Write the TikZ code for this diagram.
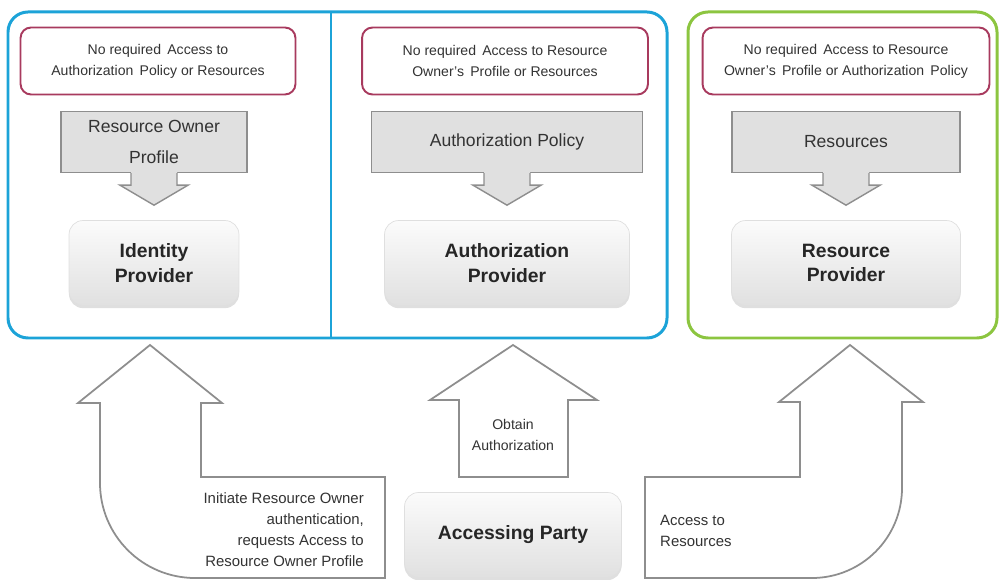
\documentclass[tikz,border=0pt]{standalone}
\usepackage{fontspec}
\setmainfont{Liberation Sans}
\usetikzlibrary{positioning,calc,shadows}
\definecolor{frameblue}{HTML}{1CA3D8}
\definecolor{framegreen}{HTML}{8CC540}
\definecolor{notered}{HTML}{A83A5E}
\definecolor{arrowgray}{HTML}{8E8E8E}
\definecolor{boxgray}{HTML}{E0E0E0}
\tikzset{
x=0.02cm, y=-0.02cm, % one unit is one pixel of the sketch
note/.style={draw=notered, line width=1.1pt, rounded corners=6pt, fill=white, minimum width=5.5cm, minimum height=1.34cm, align=center, font=\fontsize{8}{12}\selectfont, text=black!80},
datum/.style={draw=arrowgray, line width=0.8pt, fill=boxgray, minimum height=1.22cm, align=center, font=\fontsize{10}{18}\selectfont, text=black!80},
provider/.style={rounded corners=8pt, top color=gray!3, bottom color=gray!24, draw=gray!25, drop shadow={opacity=0.25, shadow xshift=0pt, shadow yshift=-1.5pt}, minimum height=1.7cm, align=center, font=\fontsize{11}{14}\selectfont\bfseries, text=black!85},
frame/.style={line width=1.7pt, rounded corners=0.4cm},
bigarrow/.style={draw=arrowgray, line width=1pt, fill=white, line join=miter},
says/.style={font=\fontsize{8.5}{12}\selectfont, text=black!80},
}
% arrow under a data box, pointing to its provider
\newcommand\dropArrow[1]{%
\fill[boxgray] ($(#1.south)+(-23,-2)$) -- ++(0,14) -- ++(-11,0) -- ($(#1.south)+(0,32)$) -- ($(#1.south)+(34,12)$) -- ++(-11,0) -- ++(0,-14) -- cycle;
\draw[arrowgray, line width=0.8pt, line join=miter] ($(#1.south)+(-23,0)$) -- ++(0,12) -- ++(-11,0) -- ($(#1.south)+(0,32)$) -- ($(#1.south)+(34,12)$) -- ++(-11,0) -- ++(0,-12);
}
\begin{document}
\begin{tikzpicture}
\useasboundingbox (0,0) rectangle (1000,580);
% frames
\draw[frame, frameblue] (8,12) rectangle (667,338);
\draw[frameblue, line width=1.7pt] (331,12) -- (331,338);
\draw[frame, framegreen] (688,12) rectangle (997,338);

% notes
\node[note] (note1) at (158,61) {No required\, Access to\\Authorization\, Policy or Resources};
\node[note, minimum width=5.72cm] (note2) at (505,61) {No required\, Access to Resource\\Owner's\, Profile or Resources};
\node[note, minimum width=5.74cm] (note3) at (846,61) {No required\, Access to Resource\\Owner's\, Profile or Authorization\, Policy};

% data boxes
\node[datum, minimum width=3.72cm] (data1) at (154,142) {Resource Owner\\Profile};
\node[datum, minimum width=5.42cm] (data2) at (507,142) {Authorization Policy};
\node[datum, minimum width=4.56cm] (data3) at (846,142) {Resources};

% providers
\node[provider, minimum width=3.4cm, below=0.94cm of data1] (idp) {Identity\\Provider};
\node[provider, minimum width=4.9cm, below=0.94cm of data2] (authp) {Authorization\\Provider};
\node[provider, minimum width=4.58cm, below=0.94cm of data3] (resp) {Resource\\Provider};

\dropArrow{data1}
\dropArrow{data2}
\dropArrow{data3}

% accessing party
\node[provider, minimum width=4.34cm] (party) at (513,535) {Accessing Party};

% big arrows from the accessing party
\coordinate (tip1) at (150,345);
\coordinate (tip2) at (513,345);
\coordinate (tip3) at (850,345);
\draw[bigarrow] (201,477) -- (201,403) -- (222,403) -- (tip1) -- (78,403) -- (100,403) -- (100,483)
  arc[start angle=180, end angle=90, radius=95] -- (385,578) -- (385,477) -- cycle;
\draw[bigarrow] (459,477) -- (459,400) -- (430,400) -- (tip2) -- (597,400) -- (568,400) -- (568,477) -- cycle;
\draw[bigarrow] (645,578) -- (645,477) -- (800,477) -- (800,402) -- (779,402) -- (tip3) -- (923,402) -- (902,402) -- (902,488)
  arc[start angle=0, end angle=90, radius=90] -- cycle;

\node[says, anchor=east, align=right] (say1) at (370,530) {Initiate Resource Owner\\authentication,\\requests Access to\\Resource Owner Profile};
\node[says, align=center, font=\fontsize{8}{12}\selectfont] (say2) at (513,435) {Obtain\\Authorization};
\node[says, anchor=west, align=left] (say3) at (654,531) {Access to\\Resources};
\end{tikzpicture}
\end{document}
